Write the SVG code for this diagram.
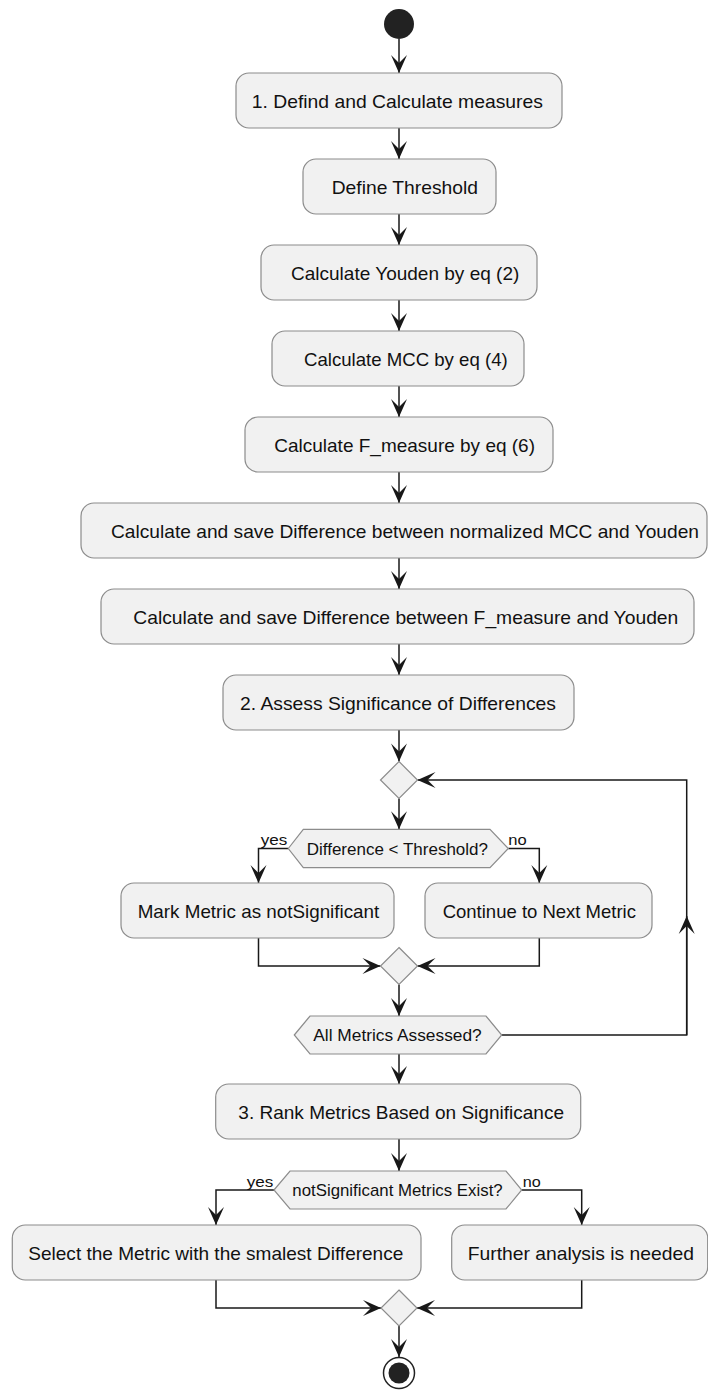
<svg xmlns="http://www.w3.org/2000/svg" width="708" height="1390" viewBox="0 0 708 1390">
<defs>
<marker id="ah" viewBox="-20 -10 22 20" refX="0" refY="0" markerWidth="22" markerHeight="20" markerUnits="userSpaceOnUse" orient="auto">
<path d="M0,0 L-18,-8 L-10,0 L-18,8 Z" fill="#181818"/>
</marker>
</defs>
<style>
.box{fill:#F1F1F1;stroke:#8c8c8c;stroke-width:1.2}
.t{font-family:"Liberation Sans",Arial,sans-serif;font-size:18.5px;fill:#111}
.h{font-family:"Liberation Sans",Arial,sans-serif;font-size:17px;fill:#111}
.l{font-family:"Liberation Sans",Arial,sans-serif;font-size:15px;fill:#111}
.c{fill:none;stroke:#181818;stroke-width:1.5}
.a{marker-end:url(#ah)}
</style>
<rect width="708" height="1390" fill="#ffffff"/>
<g id="connectors">
<path class="c a" d="M399,39 V73"/>
<path class="c a" d="M399,128 V159"/>
<path class="c a" d="M399,214 V245"/>
<path class="c a" d="M399,300 V331"/>
<path class="c a" d="M399,386 V417"/>
<path class="c a" d="M399,472 V503"/>
<path class="c a" d="M399,558 V589"/>
<path class="c a" d="M399,644 V675"/>
<path class="c a" d="M399,730 V761.5"/>
<path class="c a" d="M399,798.5 V829.3"/>
<path class="c a" d="M288.3,848.5 H258.5 V883"/>
<path class="c a" d="M508.3,848.5 H539.3 V883"/>
<path class="c a" d="M258.5,938 V966 H380.5"/>
<path class="c a" d="M539.3,938 V966 H417.5"/>
<path class="c a" d="M399,984.5 V1016"/>
<path class="c a" d="M686.7,1035 V916"/>
<path class="c a" d="M501.7,1035 H686.7 V780 H417.5"/>
<path class="c a" d="M399,1054 V1084"/>
<path class="c a" d="M399,1139 V1171"/>
<path class="c a" d="M274,1190 H216 V1225"/>
<path class="c a" d="M521.7,1190 H581.7 V1225"/>
<path class="c a" d="M216,1280 V1308 H381"/>
<path class="c a" d="M581.7,1280 V1308 H417"/>
<path class="c a" d="M399,1326 V1357"/>
</g>
<g id="start"><circle cx="399" cy="24" r="15" fill="#222"/></g>
<g id="n1"><rect class="box" x="236" y="73" width="326" height="55" rx="13"/><text class="t" x="251.7" y="108" textLength="291.3" lengthAdjust="spacingAndGlyphs">1. Defind and Calculate measures</text></g>
<g id="n2"><rect class="box" x="303" y="159" width="193" height="55" rx="13"/><text class="t" x="331.7" y="194" textLength="146.3" lengthAdjust="spacingAndGlyphs">Define Threshold</text></g>
<g id="n3"><rect class="box" x="261" y="245" width="276" height="55" rx="13"/><text class="t" x="291" y="280" textLength="228.3" lengthAdjust="spacingAndGlyphs">Calculate Youden by eq (2)</text></g>
<g id="n4"><rect class="box" x="272" y="331" width="252" height="55" rx="13"/><text class="t" x="304" y="366" textLength="203.7" lengthAdjust="spacingAndGlyphs">Calculate MCC by eq (4)</text></g>
<g id="n5"><rect class="box" x="245" y="417" width="308" height="55" rx="13"/><text class="t" x="274.3" y="452" textLength="260.7" lengthAdjust="spacingAndGlyphs">Calculate F_measure by eq (6)</text></g>
<g id="n6"><rect class="box" x="81" y="503" width="626" height="55" rx="13"/><text class="t" x="111" y="538" textLength="588" lengthAdjust="spacingAndGlyphs">Calculate and save Difference between normalized MCC and Youden</text></g>
<g id="n7"><rect class="box" x="101" y="589" width="593" height="55" rx="13"/><text class="t" x="133.3" y="624" textLength="545" lengthAdjust="spacingAndGlyphs">Calculate and save Difference between F_measure and Youden</text></g>
<g id="n8"><rect class="box" x="223" y="675" width="351" height="55" rx="13"/><text class="t" x="240" y="710" textLength="316" lengthAdjust="spacingAndGlyphs">2. Assess Significance of Differences</text></g>
<g id="m1"><polygon class="box" points="399,761.5 417.5,780 399,798.5 380.5,780"/></g>
<g id="d1"><polygon class="box" points="288.3,848.5 303.3,829.3 490,829.3 508.3,848.5 490,867.7 303.3,867.7"/><text class="h" x="306.7" y="854.5" textLength="181.3" lengthAdjust="spacingAndGlyphs">Difference &lt; Threshold?</text><text class="l" x="260.7" y="845" textLength="26.6" lengthAdjust="spacingAndGlyphs">yes</text><text class="l" x="508.3" y="845" textLength="18.4" lengthAdjust="spacingAndGlyphs">no</text></g>
<g id="n9"><rect class="box" x="121" y="883" width="273" height="55" rx="13"/><text class="t" x="137.7" y="918" textLength="241.6" lengthAdjust="spacingAndGlyphs">Mark Metric as notSignificant</text></g>
<g id="n10"><rect class="box" x="425" y="883" width="227" height="55" rx="13"/><text class="t" x="442.7" y="918" textLength="193.3" lengthAdjust="spacingAndGlyphs">Continue to Next Metric</text></g>
<g id="m2"><polygon class="box" points="399,947.5 417.5,966 399,984.5 380.5,966"/></g>
<g id="d2"><polygon class="box" points="294.3,1035 310,1016 486,1016 501.7,1035 486,1054 310,1054"/><text class="h" x="313.3" y="1041" textLength="168.4" lengthAdjust="spacingAndGlyphs">All Metrics Assessed?</text></g>
<g id="n11"><rect class="box" x="215.7" y="1084" width="365" height="55" rx="13"/><text class="t" x="238.3" y="1119" textLength="325.7" lengthAdjust="spacingAndGlyphs">3. Rank Metrics Based on Significance</text></g>
<g id="d3"><polygon class="box" points="274,1190 290,1171 506,1171 521.7,1190 506,1209 290,1209"/><text class="h" x="292.3" y="1196" textLength="210.4" lengthAdjust="spacingAndGlyphs">notSignificant Metrics Exist?</text><text class="l" x="246.7" y="1186.5" textLength="26.6" lengthAdjust="spacingAndGlyphs">yes</text><text class="l" x="522.7" y="1186.5" textLength="18" lengthAdjust="spacingAndGlyphs">no</text></g>
<g id="n12"><rect class="box" x="12.3" y="1225" width="408.7" height="55" rx="13"/><text class="t" x="28.3" y="1260" textLength="375" lengthAdjust="spacingAndGlyphs">Select the Metric with the smalest Difference</text></g>
<g id="n13"><rect class="box" x="451.7" y="1225" width="256" height="55" rx="13"/><text class="t" x="467.7" y="1260" textLength="226.3" lengthAdjust="spacingAndGlyphs">Further analysis is needed</text></g>
<g id="m3"><polygon class="box" points="399,1290 417,1308 399,1326 381,1308"/></g>
<g id="end"><circle cx="399" cy="1373" r="15.5" fill="#ffffff" stroke="#222" stroke-width="1.5"/><circle cx="399" cy="1373" r="10.5" fill="#222"/></g>
</svg>
